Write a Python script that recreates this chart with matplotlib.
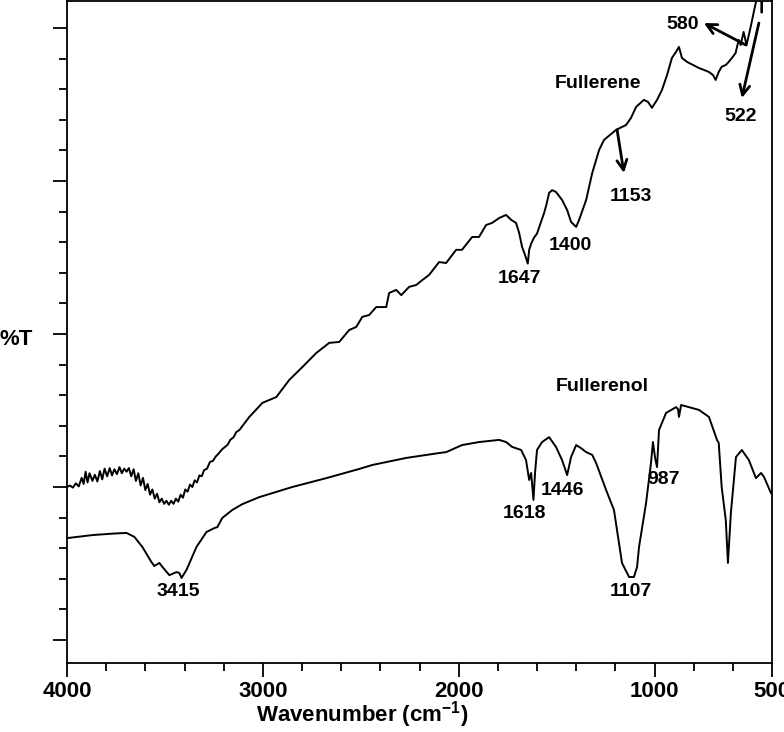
import matplotlib
matplotlib.use('Agg')
import matplotlib.pyplot as plt

plt.rcParams['font.family'] = ['Liberation Sans', 'DejaVu Sans']
plt.rcParams['mathtext.fontset'] = 'custom'
plt.rcParams['mathtext.rm'] = 'Liberation Sans:bold'
plt.rcParams['mathtext.it'] = 'Liberation Sans:bold'
plt.rcParams['mathtext.default'] = 'rm'

# Fullerene spectrum (wavenumber, %T in arbitrary units)
wn_fullerene = [4000, 3985, 3970, 3955, 3940, 3925, 3915, 3905, 3895, 3885, 3870, 3858, 3845, 3832,
                3820, 3808, 3795, 3782, 3770, 3758, 3745, 3732, 3720, 3708, 3696, 3684, 3672, 3660,
                3648, 3636, 3624, 3612, 3600, 3588, 3576, 3564, 3552, 3540, 3528, 3516, 3504, 3492,
                3480, 3468, 3456, 3444, 3432, 3420, 3408, 3396, 3384, 3372, 3360, 3348, 3336, 3324,
                3312, 3300, 3285, 3270, 3255, 3240, 3225, 3210, 3195, 3180, 3165, 3150, 3135, 3120,
                3069, 3002, 2931, 2865, 2798, 2727, 2661, 2610, 2559, 2523, 2492, 2457, 2421, 2370,
                2355, 2319, 2293, 2253, 2217, 2186, 2151, 2100, 2064, 2013, 1983, 1931, 1896, 1860,
                1829, 1793, 1758, 1732, 1707, 1691, 1676, 1662, 1647, 1640, 1630, 1615, 1600, 1564,
                1553, 1538, 1523, 1503, 1472, 1446, 1426, 1400, 1385, 1349, 1318, 1283, 1258, 1196,
                1145, 1120, 1094, 1054, 1033, 1013, 987, 962, 936, 911, 890, 875, 860, 834,
                804, 773, 748, 722, 701, 688, 672, 657, 636, 621, 601, 586, 570, 560,
                545, 530, 509, 494, 479, 470, 460, 453, 445, 430, 405]
t_fullerene = [5.00, 5.05, 4.98, 5.12, 5.02, 5.30, 5.10, 5.50, 5.15, 5.45, 5.20, 5.40, 5.18, 5.52,
               5.25, 5.60, 5.35, 5.62, 5.38, 5.58, 5.42, 5.65, 5.45, 5.60, 5.50, 5.62, 5.35, 5.58,
               5.20, 5.45, 5.05, 5.30, 4.90, 5.10, 4.75, 4.92, 4.62, 4.78, 4.50, 4.62, 4.45, 4.55,
               4.42, 4.55, 4.45, 4.62, 4.52, 4.75, 4.65, 4.92, 4.85, 5.08, 5.00, 5.22, 5.15, 5.38,
               5.35, 5.55, 5.60, 5.82, 5.85, 6.00, 6.10, 6.22, 6.30, 6.38, 6.55, 6.62, 6.80, 6.86,
               7.29, 7.75, 7.94, 8.50, 8.92, 9.38, 9.71, 9.74, 10.13, 10.23, 10.56, 10.62, 10.88, 10.88,
               11.34, 11.44, 11.27, 11.54, 11.60, 11.76, 11.93, 12.35, 12.32, 12.75, 12.75, 13.17, 13.17, 13.56,
               13.63, 13.79, 13.89, 13.73, 13.63, 13.30, 12.84, 12.60, 12.30, 12.75, 12.95, 13.15, 13.28, 13.95,
               14.20, 14.61, 14.70, 14.64, 14.38, 14.05, 13.66, 13.50, 13.73, 14.38, 15.26, 16.01, 16.34, 16.67,
               16.83, 17.06, 17.42, 17.65, 17.58, 17.39, 17.65, 17.97, 18.46, 19.02, 19.22, 19.38, 19.02, 18.89,
               18.79, 18.69, 18.63, 18.56, 18.46, 18.30, 18.56, 18.73, 18.79, 18.89, 19.05, 19.18, 19.61, 19.44,
               19.87, 19.44, 20.03, 20.49, 20.92, 21.50, 21.90, 20.50, 21.60, 22.20, 22.60]

# Fullerenol spectrum
wn_fullerenol = [4000, 3870, 3760, 3696, 3656, 3615, 3569, 3554, 3528, 3513, 3477, 3441, 3426, 3415,
                 3390, 3339, 3288, 3247, 3232, 3207, 3156, 3105, 3018, 2850, 2676, 2508, 2441, 2268,
                 2100, 2064, 1983, 1895, 1793, 1758, 1727, 1681, 1656, 1640, 1630, 1618, 1610, 1600,
                 1574, 1538, 1503, 1472, 1446, 1426, 1400, 1375, 1349, 1318, 1298, 1247, 1207, 1166,
                 1130, 1105, 1089, 1079, 1043, 1018, 1008, 997, 987, 977, 941, 890, 880, 875,
                 864, 773, 722, 681, 672, 657, 636, 625, 610, 584, 554, 518, 482, 456,
                 441, 405]
t_fullerenol = [3.33, 3.43, 3.48, 3.50, 3.37, 3.04, 2.55, 2.42, 2.52, 2.39, 2.12, 2.22, 2.19, 2.03,
                2.29, 3.04, 3.53, 3.66, 3.69, 3.99, 4.25, 4.44, 4.67, 5.00, 5.29, 5.59, 5.72, 5.95,
                6.11, 6.14, 6.37, 6.47, 6.54, 6.47, 6.31, 6.21, 5.88, 5.23, 5.46, 4.58, 5.46, 6.21,
                6.47, 6.63, 6.31, 5.88, 5.39, 5.98, 6.37, 6.27, 6.14, 6.05, 5.78, 4.90, 4.25, 2.52,
                2.06, 2.06, 2.39, 3.04, 4.48, 5.78, 6.47, 5.95, 5.65, 6.86, 7.42, 7.61, 7.55, 7.29,
                7.68, 7.52, 7.29, 6.54, 6.44, 5.00, 3.92, 2.52, 4.15, 5.98, 6.21, 5.88, 5.29, 5.46,
                5.33, 4.80]

# peak labels: (text, x, y)
peak_labels = [('1647', 1691, 11.8), ('1400', 1431, 12.9), ('1618', 1666, 4.15),
               ('1446', 1472, 4.9), ('987', 951, 5.23), ('1107', 1120, 1.6), ('3415', 3431, 1.57)]
# arrows: (text, text x, text y, tip x, tip y, tail x, tail y)
arrow_labels = [('1153', 1120, 14.48, 1156, 15.26, 1191, 16.67),
                ('580', 855, 20.1, 748, 20.16, 533, 19.44),
                ('522', 558, 17.1, 554, 17.71, 467, 20.16)]

fig = plt.figure(figsize=(7.84, 7.32), dpi=100)
ax = fig.add_axes([67 / 784, 69 / 732, 705 / 784, 662 / 732])

ax.plot(wn_fullerene, t_fullerene, color='black', lw=1.4)
ax.plot(wn_fullerenol, t_fullerenol, color='black', lw=1.4)

ax.set_xlim(4000, 400)
ax.set_ylim(-0.75, 20.88)

ax.set_xticks([4000, 3000, 2000, 1000, 400])
ax.set_xticklabels(['4000', '3000', '2000', '1000', '500'])
ax.set_xticks([3800, 3600, 3400, 3200, 2800, 2600, 2400, 2200, 1800, 1600, 1400, 1200, 800, 600], minor=True)
ax.set_yticks([0, 5, 10, 15, 20])
ax.set_yticks([v for v in range(21) if v % 5], minor=True)
ax.set_yticklabels([])

ax.tick_params(axis='both', which='major', direction='out', length=10, width=1.3, pad=3,
               labelsize=16)
ax.tick_params(axis='both', which='minor', direction='out', length=5.5, width=1.3)
for lab in ax.get_xticklabels():
    lab.set_fontweight('bold')
for sp in ax.spines.values():
    sp.set_linewidth(1.3)

fig.text(362 / 784, 17 / 732, 'Wavenumber (cm$^{-1}$)', ha='center', va='center',
         fontsize=16, fontweight='bold')
fig.text(0.0, (732 - 340) / 732, '%T', ha='left', va='center', fontsize=16, fontweight='bold')

ax.text(1289, 18.2, 'Fullerene', ha='center', va='center', fontsize=14, fontweight='bold')
ax.text(1268, 8.27, 'Fullerenol', ha='center', va='center', fontsize=14, fontweight='bold')

for txt, x, y in peak_labels:
    ax.text(x, y, txt, ha='center', va='center', fontsize=14, fontweight='bold')

for txt, tx, ty, hx, hy, sx, sy in arrow_labels:
    ax.annotate('', xy=(hx, hy), xytext=(sx, sy),
                arrowprops=dict(arrowstyle='->', lw=2, color='black', mutation_scale=18,
                                shrinkA=0, shrinkB=0))
    ax.text(tx, ty, txt, ha='center', va='center', fontsize=14, fontweight='bold')

fig.savefig('out.png', dpi=100)
